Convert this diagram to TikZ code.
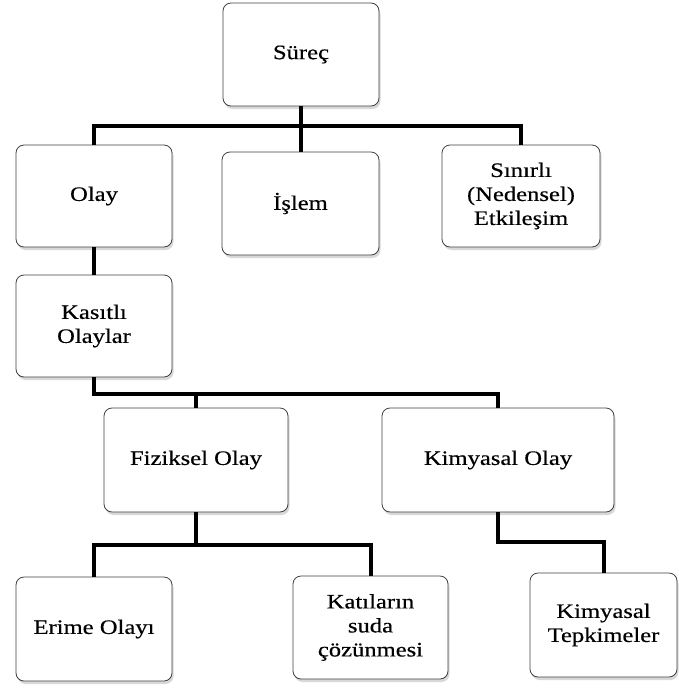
\documentclass[tikz,border=0pt]{standalone}
\usepackage{fontspec}
\setmainfont{Liberation Serif}[FakeStretch=1.2,FakeBold=0.4]
\usetikzlibrary{shadows}
\begin{document}
\begin{tikzpicture}[x=1pt,y=1pt,
  box/.style={draw=black!75, line width=0.8pt, rounded corners=8pt, fill=white,
    align=center, inner sep=2pt, font=\fontsize{20.5}{24}\selectfont,
    drop shadow={shadow xshift=1.5pt, shadow yshift=-3pt, fill=black!30}},
  conn/.style={line width=4pt, black}]
\useasboundingbox (0,0) rectangle (679,-691);
\node[box, minimum width=156, minimum height=103] (surec) at (301,-54.5) {Süreç};
\node[box, minimum width=156, minimum height=102] (olay) at (94,-196) {Olay};
\node[box, minimum width=157, minimum height=103] (islem) at (300.5,-203.5) {İşlem};
\node[box, minimum width=158, minimum height=102] (sinirli) at (521,-196) {Sınırlı\\(Nedensel)\\Etkileşim};
\node[box, minimum width=156, minimum height=102] (kasitli) at (94,-326) {Kasıtlı\\Olaylar};
\node[box, minimum width=184, minimum height=104] (fiziksel) at (196,-460) {Fiziksel Olay};
\node[box, minimum width=232, minimum height=104] (kimyasal) at (498,-460) {Kimyasal Olay};
\node[box, minimum width=156, minimum height=104] (erime) at (94,-629) {Erime Olayı};
\node[box, minimum width=155, minimum height=103] (katilarin) at (370.5,-627.5) {Katıların\\suda\\çözünmesi};
\node[box, minimum width=147, minimum height=104] (tepkimeler) at (603.5,-625) {Kimyasal\\Tepkimeler};
\coordinate (b1) at (301,-126);
\coordinate (b2) at (196,-394);
\coordinate (b3) at (196,-545);
\coordinate (b4) at (498,-542);
\draw[conn] (surec.south) -- (b1);
\draw[conn] (olay.north) |- (b1) -| (sinirli.north);
\draw[conn] (islem.north) -- (islem.north |- b1);
\draw[conn] (olay.south) -- (kasitli.north);
\draw[conn] (kasitli.south) |- (b2) -| (kimyasal.north);
\draw[conn] (fiziksel.north) -- (b2);
\draw[conn] (fiziksel.south) -- (b3);
\draw[conn] (erime.north) |- (b3) -| (katilarin.north);
\draw[conn] (kimyasal.south) -- (b4) -| (tepkimeler.north);
\end{tikzpicture}
\end{document}
